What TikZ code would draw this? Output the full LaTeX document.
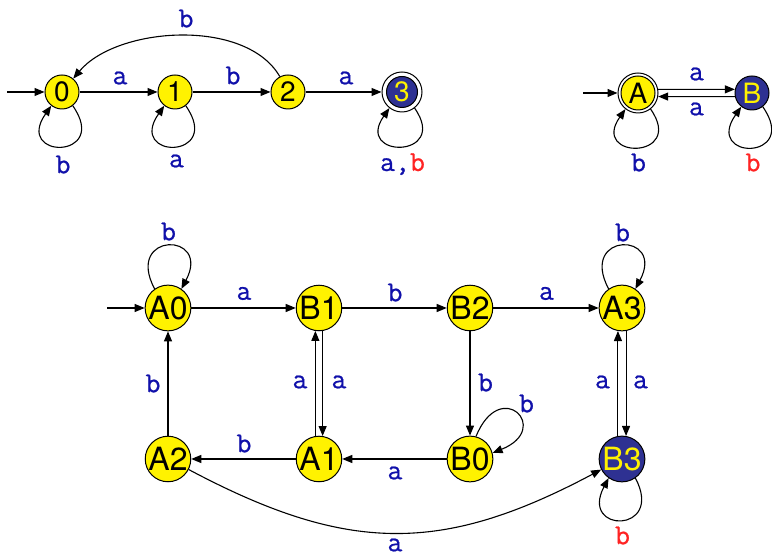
\documentclass[tikz,border=0pt]{standalone}
\usepackage{fontspec}
\setsansfont{TeX Gyre Heros}
\newfontfamily\lblfont[FakeBold=0.7]{Latin Modern Mono}
\usetikzlibrary{arrows.meta}
\definecolor{ny}{RGB}{255,242,0}
\definecolor{nb}{RGB}{46,49,146}
\definecolor{lb}{RGB}{16,16,170}
\definecolor{lr}{RGB}{255,35,35}
\begin{document}
\begin{tikzpicture}[x=0.5pt,y=0.5pt,
 edge/.style={draw, line width=0.55pt, -{Triangle[length=5pt,width=4pt]}},
 sm/.style={circle, draw, line width=0.5pt, inner sep=0pt, minimum size=17pt, fill=ny, font=\sffamily\fontsize{14}{14}\selectfont},
 bg/.style={circle, draw, line width=0.5pt, inner sep=0pt, minimum size=22pt, fill=ny, font=\sffamily\fontsize{16}{16}\selectfont},
 dark/.style={fill=nb, text=ny},
 ring/.style={circle, draw, line width=0.5pt, inner sep=0pt, minimum size=20pt},
 lbl/.style={inner sep=0pt, text=lb, font=\lblfont\fontsize{14.5}{14.5}\selectfont},
]
\useasboundingbox (0,0) rectangle (772,555);
% ---------- top left automaton
\node[sm] (n0) at (62,463) {0};
\node[sm] (n1) at (175,463) {1};
\node[sm] (n2) at (288,463) {2};
\node[ring] (n3) at (402,463) {};
\node[sm, dark, minimum size=15.5pt] (n3i) at (n3) {3};
\coordinate (s0) at (7,463);
\draw[edge] (s0) -- (n0);
\draw[edge] (n0) -- (n1);
\draw[edge] (n1) -- (n2);
\draw[edge] (n2) -- (n3);
\draw[edge] (n2.118) .. controls +(120:68) and +(50:68) .. (n0.50);
\draw[edge] (n0.-52) .. controls +(-55:66) and +(-125:66) .. (n0.-128);
\draw[edge] (n1.-52) .. controls +(-55:66) and +(-125:66) .. (n1.-128);
\draw[edge] (n3.-52) .. controls +(-55:62) and +(-125:62) .. (n3.-128);
\node[lbl] (t1) at (120,477) {a};
\node[lbl] (t2) at (233,479.5) {b};
\node[lbl] (t3) at (346,477) {a};
\node[lbl] (t4) at (186,536.5) {b};
\node[lbl] (t5) at (63,390.5) {b};
\node[lbl] (t6) at (176.5,394) {a};
\node[lbl, anchor=base] (t7) at (402.5,384) {a,\textcolor{lr}{b}};
% ---------- top right automaton
\node[ring] (A) at (638,462) {};
\node[sm] (Ai) at (A) {A};
\node[sm, dark] (B) at (752,462) {B};
\coordinate (sA) at (583,462);
\draw[edge] (sA) -- (A);
\draw[edge] (A.10) -- (B.168);
\draw[edge] (B.-168) -- (A.-10);
\draw[edge] (A.-52) .. controls +(-55:62) and +(-125:62) .. (A.-128);
\draw[edge] (B.-52) .. controls +(-55:66) and +(-125:66) .. (B.-128);
\node[lbl] (u1) at (696.5,481) {a};
\node[lbl] (u2) at (696.5,446) {a};
\node[lbl] (u3) at (638.5,392.5) {b};
\node[lbl, text=lr] (u4) at (753,392.5) {b};
% ---------- bottom automaton
\node[bg] (A0) at (168,247) {A0};
\node[bg] (B1) at (319,247) {B1};
\node[bg] (B2) at (470,247) {B2};
\node[bg] (A3) at (622,247) {A3};
\node[bg] (A2) at (168,96) {A2};
\node[bg] (A1) at (319,96) {A1};
\node[bg] (B0) at (470,96) {B0};
\node[bg, dark] (B3) at (622,96) {B3};
\coordinate (sA0) at (107,247);
\draw[edge] (sA0) -- (A0);
\draw[edge] (A0) -- (B1);
\draw[edge] (B1) -- (B2);
\draw[edge] (B2) -- (A3);
\draw[edge] (A2) -- (A0);
\draw[edge] (A1) -- (A2);
\draw[edge] (B0) -- (A1);
\draw[edge] (B2) -- (B0);
\draw[edge] (A1.99) -- (B1.-99);
\draw[edge] (B1.-81) -- (A1.81);
\draw[edge] (B3.100) -- (A3.-100);
\draw[edge] (A3.-80) -- (B3.80);
\draw[edge] (A2.-27) .. controls +(-28:180) and +(-152:180) .. (B3.-153);
\draw[edge] (A0.125) .. controls +(118:65) and +(62:65) .. (A0.55);
\draw[edge] (A3.125) .. controls +(118:65) and +(62:65) .. (A3.55);
\draw[edge] (B0.75) .. controls +(68:65) and +(22:65) .. (B0.15);
\draw[edge] (B3.-55) .. controls +(-62:63) and +(-118:63) .. (B3.-125);
\node[lbl] (v1) at (168.5,323.5) {b};
\node[lbl] (v2) at (244,261.5) {a};
\node[lbl] (v3) at (395,262.5) {b};
\node[lbl] (v4) at (546.5,261.5) {a};
\node[lbl] (v5) at (622.5,322.5) {b};
\node[lbl] (v6) at (485.5,172.5) {b};
\node[lbl] (v7) at (526.5,151.5) {b};
\node[lbl] (v8) at (602.5,173) {a};
\node[lbl] (v9) at (640.5,173) {a};
\node[lbl, text=lr] (v10) at (622.5,19.5) {b};
\node[lbl] (v11) at (153,171.5) {b};
\node[lbl] (v12) at (300,173) {a};
\node[lbl] (v13) at (339,173) {a};
\node[lbl] (v14) at (244,111.5) {b};
\node[lbl] (v15) at (395,82) {a};
\node[lbl] (v16) at (395,10) {a};
\end{tikzpicture}
\end{document}
